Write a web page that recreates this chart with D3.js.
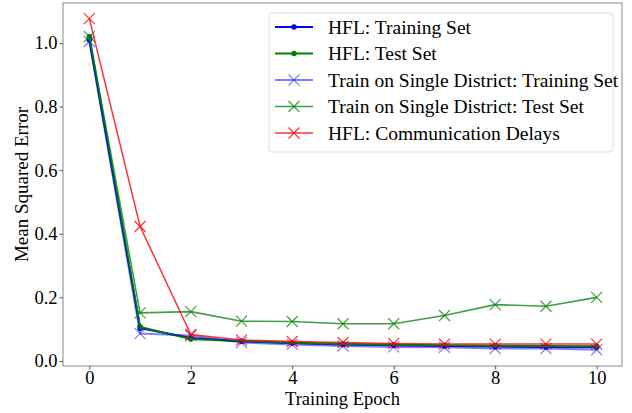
<!DOCTYPE html>
<html><head><meta charset="utf-8">
<script src="https://cdn.jsdelivr.net/npm/d3@7"></script>
<style>body{margin:0;background:#fff}svg{display:block}text{font-family:"Liberation Serif","Times New Roman",serif}</style>
</head><body><svg id="c" width="632" height="413"></svg>
<script>
const epochs = [0,1,2,3,4,5,6,7,8,9,10];
const hflTrain = [1.010,0.103,0.072,0.062,0.056,0.052,0.049,0.047,0.045,0.044,0.043];
const hflTest = [1.020,0.107,0.069,0.062,0.057,0.053,0.051,0.049,0.048,0.047,0.046];
const singleTrain = [1.005,0.086,0.080,0.058,0.052,0.047,0.044,0.043,0.039,0.039,0.035];
const singleTest = [1.020,0.151,0.155,0.125,0.124,0.117,0.117,0.143,0.177,0.172,0.200];
const commDelay = [1.077,0.423,0.083,0.066,0.061,0.058,0.055,0.053,0.053,0.053,0.053];
const xTicks = [0,2,4,6,8,10];
const yTicks = [0.0,0.2,0.4,0.6,0.8,1.0];
const seriesNames = ["HFL: Training Set","HFL: Test Set","Train on Single District: Training Set","Train on Single District: Test Set","HFL: Communication Delays"];

const series = [
  {name:seriesNames[0], vals:hflTrain, color:"#0000ff", marker:"dot", op:1, lw:2},
  {name:seriesNames[1], vals:hflTest, color:"#008000", marker:"dot", op:1, lw:2},
  {name:seriesNames[2], vals:singleTrain, color:"#0000ff", marker:"x", op:0.5, lw:2},
  {name:seriesNames[3], vals:singleTest, color:"#008000", marker:"x", op:0.75, lw:1.6},
  {name:seriesNames[4], vals:commDelay, color:"#ff0000", marker:"x", op:0.8, lw:1.5}
];

const L=63,R=622,T=3,B=366;
const x = d3.scaleLinear().domain([-0.52,10.5]).range([L,R]);
const y = d3.scaleLinear().domain([-0.016,1.126]).range([B,T]);
const svg = d3.select("#c");

svg.append("rect").attr("x",L).attr("y",T).attr("width",R-L).attr("height",B-T)
  .attr("fill","none").attr("stroke","#888").attr("stroke-width",1);

const xa = svg.append("g").attr("transform",`translate(0,${B})`)
  .call(d3.axisBottom(x).tickValues(xTicks).tickFormat(d3.format("d")).tickSize(3.5).tickPadding(1));
const ya = svg.append("g").attr("transform",`translate(${L},0)`)
  .call(d3.axisLeft(y).tickValues(yTicks).tickFormat(d3.format(".1f")).tickSize(3.5).tickPadding(2));
[xa,ya].forEach(a=>{a.select(".domain").remove();a.selectAll("line").attr("stroke","#555");
  a.attr("font-family",null);
  a.selectAll("text").attr("font-size",18.5).attr("fill","#000").style("font-family","'Liberation Serif',serif");});
xa.selectAll("text").attr("dy","0.71em");

svg.append("text").attr("x",(L+R)/2).attr("y",405).attr("text-anchor","middle").attr("font-size",18.5).text("Training Epoch");
svg.append("text").attr("transform",`translate(27.5,${(T+B)/2}) rotate(-90)`).attr("text-anchor","middle").attr("font-size",19).text("Mean Squared Error");

const line = d3.line().x((d,i)=>x(epochs[i])).y(d=>y(d));
function drawMarker(g, cx, cy, s){
  if(s.marker==="dot"){
    g.append("circle").attr("cx",cx).attr("cy",cy).attr("r",2.8).attr("fill",s.color).attr("opacity",s.op);
  } else {
    const h=5.5;
    g.append("path").attr("d",`M${cx-h},${cy-h}L${cx+h},${cy+h}M${cx-h},${cy+h}L${cx+h},${cy-h}`)
      .attr("stroke",s.color).attr("stroke-width",1.2).attr("fill","none").attr("opacity",s.op);
  }
}
series.forEach(s=>{
  const g = svg.append("g");
  g.append("path").datum(s.vals).attr("d",line).attr("fill","none").attr("stroke",s.color)
    .attr("stroke-width",s.lw).attr("opacity",s.op);
  s.vals.forEach((v,i)=>drawMarker(g,x(epochs[i]),y(v),s));
});

// legend
const lg = svg.append("g");
lg.append("rect").attr("x",269).attr("y",13).attr("width",344).attr("height",139).attr("rx",3)
  .attr("fill","#fff").attr("fill-opacity",0.8).attr("stroke","#ddd");
series.forEach((s,i)=>{
  const cy = 27 + i*26.5;
  lg.append("line").attr("x1",275).attr("x2",313).attr("y1",cy).attr("y2",cy).attr("stroke",s.color)
    .attr("stroke-width",s.lw).attr("opacity",s.op);
  drawMarker(lg,294,cy,s);
  lg.append("text").attr("x",328).attr("y",cy).attr("dy","0.35em").attr("font-size",19.5).text(s.name);
});
</script></body></html>
